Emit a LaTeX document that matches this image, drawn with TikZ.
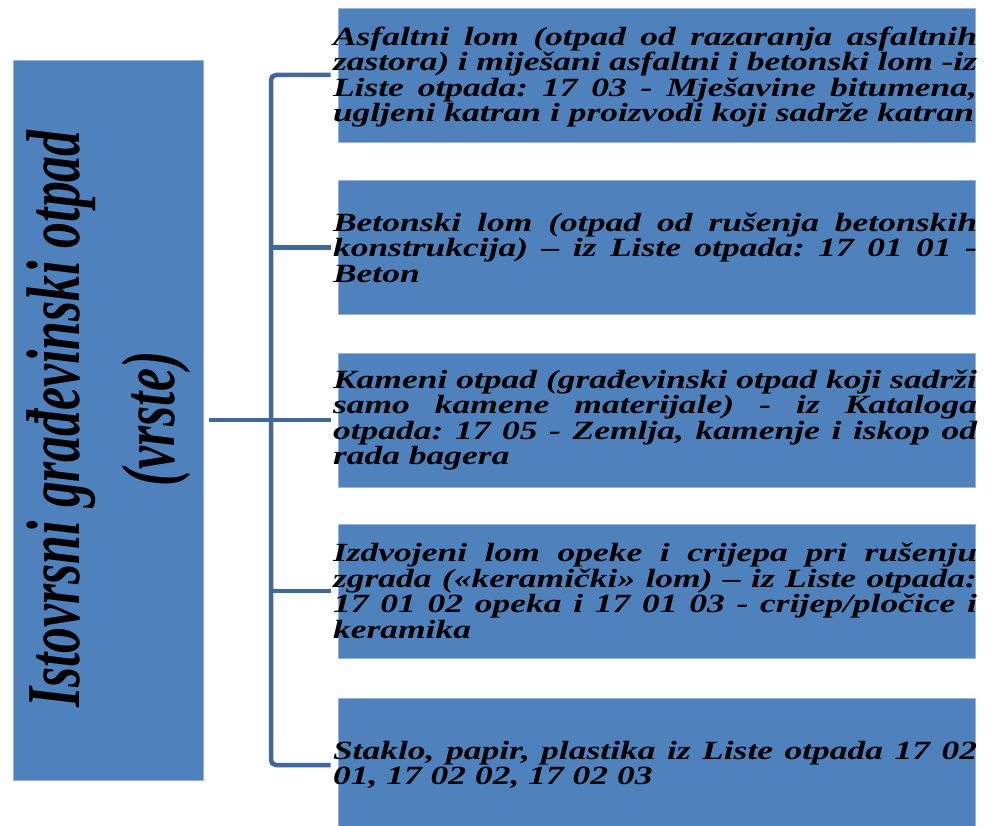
\documentclass[tikz,border=0pt]{standalone}
\usepackage{fontspec}
\usepackage{graphicx}
\setmainfont{Liberation Serif}
\definecolor{boxblue}{RGB}{79,129,189}
\definecolor{boxedge}{RGB}{150,180,215}
\definecolor{connblue}{RGB}{64,104,154}
\newlength{\tw}
\setlength{\tw}{644pt}
\newcommand{\jl}[1]{\makebox[\tw][s]{#1}\\}
\newcommand{\rtext}[1]{\scalebox{1}[0.74]{\begin{minipage}{\tw}\frenchspacing\fontsize{35.5}{34.6}\selectfont\bfseries\itshape #1\end{minipage}}}
\tikzset{
  bluebox/.style={fill=boxblue, draw=boxedge, line width=0.6pt, inner sep=0pt, minimum width=637pt, minimum height=134pt},
  leftbox/.style={fill=boxblue, draw=boxedge, line width=0.6pt, inner sep=0pt, minimum width=190pt, minimum height=720pt},
  txt/.style={inner sep=0pt, text=black},
  conn/.style={draw=connblue, line width=4.5pt, rounded corners=5pt}
}
\begin{document}
\begin{tikzpicture}[x=1pt,y=-1pt]
\useasboundingbox (0,0) rectangle (990,826);
\clip (0,0) rectangle (990,826);
\node[leftbox] (L) at (108,420) {};
\node[txt, rotate=90] (LT) at (106,419) {\scalebox{0.68}[1]{\fontsize{76}{105}\selectfont\bfseries\itshape\begin{tabular}{@{}c@{}}Istovrsni građevinski otpad\\[-10pt](vrste)\end{tabular}}};
\node[bluebox] (B1) at (656.5,75) {};
\node[bluebox] (B2) at (656.5,247.5) {};
\node[bluebox] (B3) at (656.5,420) {};
\node[bluebox] (B4) at (656.5,591) {};
\node[bluebox] (B5) at (656.5,765) {};
\coordinate (J) at (271,420);
\node[txt] (T1) at ([xshift=-1.5pt,yshift=-2pt]B1.center) {\rtext{\jl{Asfaltni lom (otpad od razaranja asfaltnih}\jl{zastora) i miješani asfaltni i betonski lom -iz}\jl{Liste otpada: 17 03 - Mješavine bitumena,}ugljeni katran i proizvodi koji sadrže katran}};
\node[txt] (T2) at ([xshift=-1.5pt]B2.center) {\rtext{\jl{Betonski lom (otpad od rušenja betonskih}\jl{konstrukcija) – iz Liste otpada: 17 01 01 -}Beton}};
\node[txt] (T3) at ([xshift=-1.5pt]B3.center) {\rtext{\jl{Kameni otpad (građevinski otpad koji sadrži}\jl{samo kamene materijale) - iz Kataloga}\jl{otpada: 17 05 - Zemlja, kamenje i iskop od}rada bagera}};
\node[txt] (T4) at ([xshift=-1.5pt]B4.center) {\rtext{\jl{Izdvojeni lom opeke i crijepa pri rušenju}\jl{zgrada («keramički» lom) – iz Liste otpada:}\jl{17 01 02 opeka i 17 01 03 - crijep/pločice i}keramika}};
\node[txt] (T5) at ([xshift=-1.5pt]B5.center) {\rtext{\jl{Staklo, papir, plastika iz Liste otpada 17 02}01, 17 02 02, 17 02 03}};
\draw[conn] ([xshift=-7pt]B1.west) -- (B1.west -| J) -- (B5.west -| J) -- ([xshift=-7pt]B5.west);
\draw[conn] (B2.west -| J) -- ([xshift=-7pt]B2.west);
\draw[conn] (B3.west -| J) -- ([xshift=-7pt]B3.west);
\draw[conn] (B4.west -| J) -- ([xshift=-7pt]B4.west);
\draw[conn] ([xshift=6pt]L.east) -- (J);
\end{tikzpicture}
\end{document}
